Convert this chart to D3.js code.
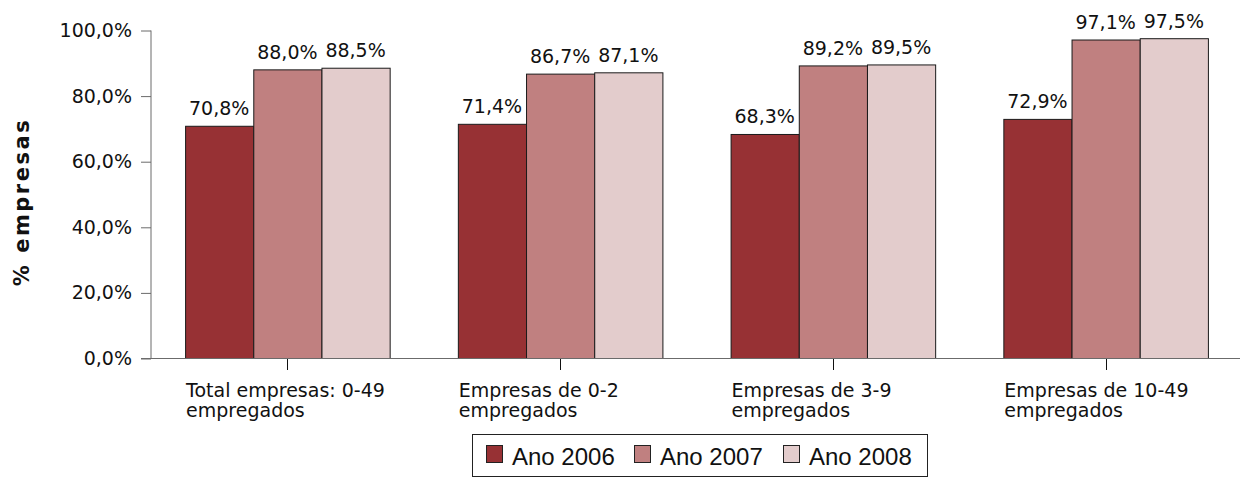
<!DOCTYPE html>
<html><head><meta charset="utf-8">
<script src="https://cdn.jsdelivr.net/npm/d3@7/dist/d3.min.js"></script>
<style>body{margin:0;background:#fff}</style>
</head><body>
<svg id="c" width="1240" height="479"></svg>
<script>
const categories = [["Total empresas: 0-49","empregados"],["Empresas de 0-2","empregados"],["Empresas de 3-9","empregados"],["Empresas de 10-49","empregados"]];
const seriesNames = ["Ano 2006","Ano 2007","Ano 2008"];
const v2006 = [70.8, 71.4, 68.3, 72.9];
const v2007 = [88.0, 86.7, 89.2, 97.1];
const v2008 = [88.5, 87.1, 89.5, 97.5];
const yTicks = [0,20,40,60,80,100];
const colors = ["#973134","#c08080","#e3cccc"];
const series = [v2006, v2007, v2008];

const svg = d3.select("#c");
const fmt = d => d.toFixed(1).replace(".", ",") + "%";
const x0 = d3.scaleBand().domain(d3.range(categories.length)).range([151, 1242]).paddingInner(0.25).paddingOuter(0.125);
const x1 = d3.scaleBand().domain(d3.range(series.length)).range([0, x0.bandwidth()]);
const y = d3.scaleLinear().domain([0,100]).range([358.5, 30.5]);

// y axis
const ya = svg.append("g").attr("transform","translate(151,0)")
  .call(d3.axisLeft(y).tickValues(yTicks).tickFormat(fmt).tickSize(10).tickPadding(9));
ya.select(".domain").attr("stroke","#6b6b6b").attr("d","M0,30.5V358.5");
ya.selectAll(".tick line").attr("stroke","#6b6b6b");
ya.selectAll("text").attr("font-family","DejaVu Sans").attr("font-size",19).attr("fill","#111");

// bars
const g = svg.append("g");
series.forEach((vals, si) => {
  g.selectAll(null).data(vals).enter().append("rect")
    .attr("x",(d,i)=>x0(i)+x1(si)+0.5)
    .attr("y",d=>y(d))
    .attr("width",x1.bandwidth())
    .attr("height",d=>y(0)-y(d))
    .attr("fill",colors[si]).attr("stroke","#1a1a1a").attr("stroke-width",1);
  g.selectAll(null).data(vals).enter().append("text")
    .attr("x",(d,i)=>x0(i)+x1(si)+x1.bandwidth()/2)
    .attr("y",d=>y(d)-11)
    .attr("text-anchor","middle")
    .attr("font-family","DejaVu Sans").attr("font-size",19).attr("fill","#111")
    .text(fmt);
});

// x axis
svg.append("line").attr("x1",141).attr("x2",1240).attr("y1",358.5).attr("y2",358.5).attr("stroke","#6b6b6b").attr("stroke-width",1.2);
categories.forEach((c,i)=>{
  const cx = Math.round(x0(i)+x0.bandwidth()/2)+0.5;
  svg.append("line").attr("x1",cx).attr("x2",cx).attr("y1",359).attr("y2",370).attr("stroke","#111");
  c.forEach((line,li)=>svg.append("text").attr("x",x0(i)+1).attr("y",397+li*20)
    .attr("font-family","DejaVu Sans").attr("font-size",19).attr("fill","#111").text(line));
});

// y title
svg.append("text").attr("transform","translate(29,202) rotate(-90)")
  .attr("text-anchor","middle").attr("font-family","DejaVu Sans").attr("font-weight","bold")
  .attr("font-size",21).attr("letter-spacing",2.5).attr("fill","#111").text("% empresas");

// legend
svg.append("rect").attr("x",472.5).attr("y",434.5).attr("width",455).attr("height",42)
  .attr("fill","#fff").attr("stroke","#222");
const lx = [486, 634, 783];
seriesNames.forEach((n,i)=>{
  svg.append("rect").attr("x",lx[i]+0.5).attr("y",445.5).attr("width",16).attr("height",17)
    .attr("fill",colors[i]).attr("stroke","#222");
  svg.append("text").attr("x",lx[i]+26).attr("y",465).attr("font-family","Liberation Sans")
    .attr("font-size",24).attr("fill","#111").text(n);
});
</script>
</body></html>
